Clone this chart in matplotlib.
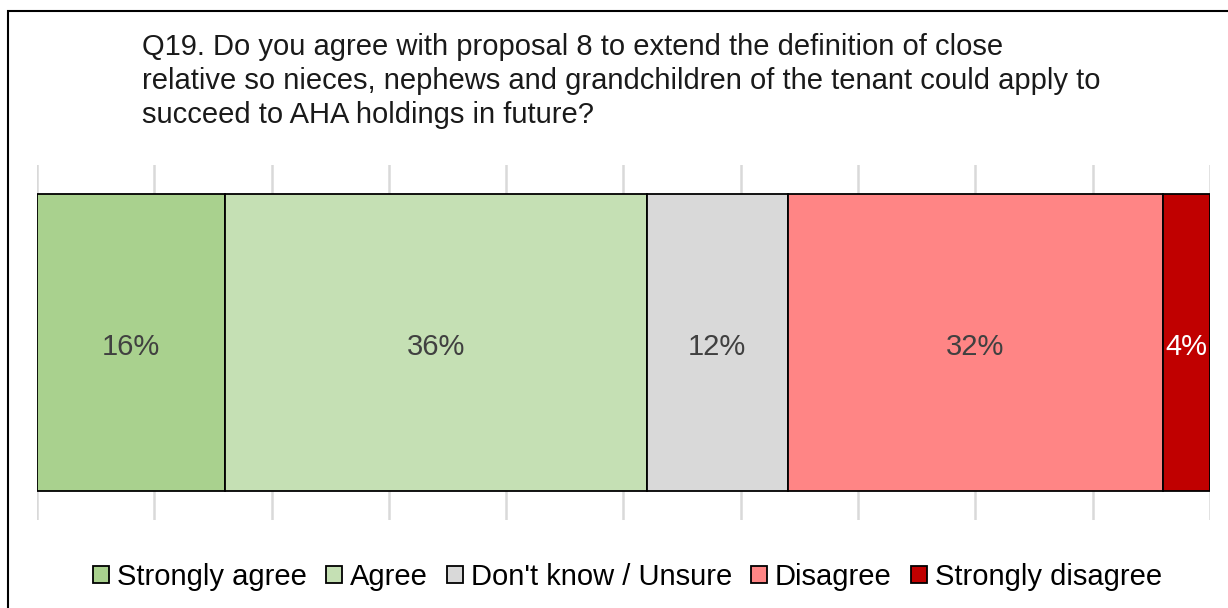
import matplotlib.pyplot as plt
from matplotlib.patches import Rectangle

plt.rcParams['font.family'] = ['Liberation Sans', 'DejaVu Sans']

categories = ['Strongly agree', 'Agree', "Don't know / Unsure", 'Disagree', 'Strongly disagree']
shares = [16, 36, 12, 32, 4]
colours = ['#A9D18E', '#C5E0B4', '#D9D9D9', '#FF8585', '#C00000']
label_colours = ['#404040', '#404040', '#404040', '#404040', 'white']
question = ('Q19. Do you agree with proposal 8 to extend the definition of close\n'
            'relative so nieces, nephews and grandchildren of the tenant could apply to\n'
            'succeed to AHA holdings in future?')

fig = plt.figure(figsize=(12.28, 6.08), dpi=100)
ax = fig.add_axes([0.0301, 0.1447, 0.9552, 0.5839])

left = 0
for cat, val, col, lc in zip(categories, shares, colours, label_colours):
    ax.barh(0, val, left=left, height=0.834, color=col, edgecolor='black',
            linewidth=1.3, label=cat, zorder=3)
    ax.text(left + val / 2, -0.012, f'{val}%', ha='center', va='center',
            fontsize=21, color=lc, zorder=4)
    left += val

ax.set_xlim(0, 100)
ax.set_ylim(-0.5, 0.5)
ax.set_xticks(range(0, 101, 10))
ax.grid(axis='x', color='#D9D9D9', linewidth=1.8, zorder=0)
ax.tick_params(left=False, bottom=False, labelleft=False, labelbottom=False)
for s in ax.spines.values():
    s.set_visible(False)

fig.text(142 / 1228, 1 - 33 / 608, question, ha='left', va='top',
         fontsize=21, color='#1a1a1a', linespacing=1.27)

fig.legend(loc='center', bbox_to_anchor=(0.511, 1 - 577 / 608), ncol=5,
           frameon=False, fontsize=21, handlelength=0.55, handleheight=0.55,
           handletextpad=0.27, columnspacing=0.65)

# outer chart frame
fig.patches.append(Rectangle((8 / 1228, -0.1), 1.2, 1 - 11 / 608 + 0.1,
                             transform=fig.transFigure, fill=False,
                             edgecolor='black', linewidth=1.5))

fig.savefig('out.png', dpi=100)
